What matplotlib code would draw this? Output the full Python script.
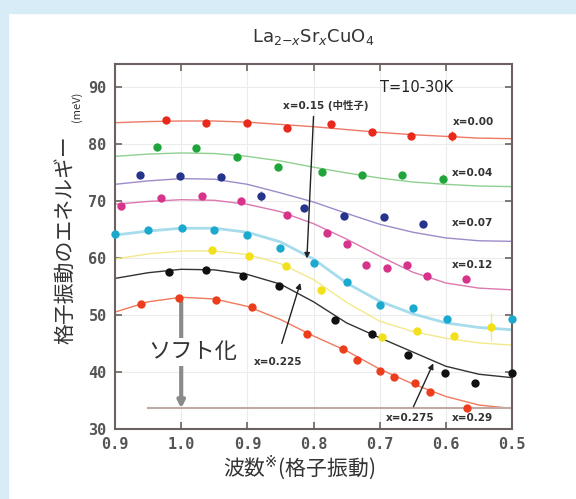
import numpy as np
import matplotlib
matplotlib.use("Agg")
import matplotlib.pyplot as plt

plt.rcParams['font.family'] = ['DejaVu Sans', 'Noto Sans CJK JP']

# x positions are in tick units: 0 -> "0.9", 1 -> "1.0", ... 6 -> "0.5"
tick_labels = ['0.9', '1.0', '0.9', '0.8', '0.7', '0.6', '0.5']
ytick_vals = [30, 40, 50, 60, 70, 80, 90]

# measured points (position, energy meV)
x000_u = [0.77, 1.37, 1.99, 2.60, 3.27, 3.88, 4.48, 5.09]
x000_e = [84.2, 83.6, 83.7, 82.7, 83.4, 82.0, 81.3, 81.4]
x004_u = [0.63, 1.23, 1.84, 2.46, 3.13, 3.74, 4.34, 4.95]
x004_e = [79.4, 79.2, 77.7, 75.9, 75.0, 74.5, 74.5, 73.8]
x007_u = [0.38, 0.98, 1.60, 2.20, 2.85, 3.46, 4.07, 4.66]
x007_e = [74.6, 74.4, 74.2, 70.8, 68.8, 67.4, 67.1, 65.9]
x012_u = [0.09, 0.70, 1.31, 1.91, 2.60, 3.21, 3.51, 3.80, 4.11, 4.41, 4.71, 5.31]
x012_e = [69.1, 70.5, 70.9, 69.9, 67.6, 64.4, 62.5, 58.7, 58.2, 58.7, 56.9, 56.3]
x015_u = [0.00, 0.50, 1.01, 1.50, 2.00, 2.50, 3.00, 3.50, 4.00, 4.51, 5.01, 6.00]
x015_e = [64.2, 64.9, 65.3, 64.9, 64.0, 61.8, 59.1, 55.7, 51.8, 51.2, 49.3, 49.3]
x018_u = [1.47, 2.03, 2.58, 3.12, 4.03, 4.57, 5.13, 5.68]
x018_e = [61.4, 60.4, 58.5, 54.3, 46.2, 47.2, 46.3, 47.9]
x0275_u = [0.82, 1.38, 1.93, 2.48, 3.33, 3.88, 4.43, 4.99, 5.44, 6.00]
x0275_e = [57.5, 57.9, 56.8, 55.1, 49.1, 46.6, 42.9, 39.9, 38.0, 39.9]
x029_u = [0.40, 0.96, 1.52, 2.07, 2.90, 3.45, 3.65, 4.00, 4.21, 4.54, 4.76, 5.32]
x029_e = [51.9, 52.9, 52.6, 51.4, 46.7, 44.0, 42.1, 40.2, 39.1, 38.1, 36.4, 33.6]

# fitted curves, read every 0.5 tick unit
fit_u = [0, 0.5, 1, 1.5, 2, 2.5, 3, 3.5, 4, 4.5, 5, 5.5, 6]
fit000 = [83.7, 83.9, 84.0, 84.0, 83.8, 83.4, 83.0, 82.5, 82.0, 81.6, 81.3, 81.0, 80.9]
fit004 = [77.8, 78.2, 78.4, 78.3, 77.8, 77.0, 75.9, 74.9, 74.0, 73.3, 72.9, 72.6, 72.5]
fit007 = [72.9, 73.5, 73.9, 73.8, 72.9, 71.4, 69.8, 67.8, 65.9, 64.5, 63.5, 63.0, 62.9]
fit012 = [69.4, 69.9, 70.2, 70.1, 69.4, 68.1, 66.0, 63.3, 60.3, 57.5, 55.6, 54.7, 54.4]
fit015 = [64.0, 64.7, 65.2, 65.2, 64.5, 62.8, 59.8, 55.6, 52.4, 50.2, 48.6, 47.8, 47.4]
fit018 = [59.8, 60.7, 61.2, 61.2, 60.6, 59.0, 56.2, 52.2, 48.9, 47.1, 45.9, 45.1, 44.7]
fit0275 = [56.4, 57.4, 58.0, 57.9, 57.1, 55.4, 52.3, 48.6, 46.0, 43.5, 41.0, 39.6, 39.0]
fit029 = [50.5, 52.3, 53.1, 52.8, 51.5, 49.2, 46.3, 43.7, 40.5, 37.9, 35.7, 34.2, 33.6]

soft_level = 33.6

series = [
    (x000_u, x000_e, fit000, '#e8291c', '#ec7a66'),
    (x004_u, x004_e, fit004, '#1fa53a', '#8fd08f'),
    (x007_u, x007_e, fit007, '#27348b', '#9d8bc9'),
    (x012_u, x012_e, fit012, '#d6338a', '#dc78b0'),
    (x015_u, x015_e, fit015, '#1baacd', '#a6dcec'),
    (x018_u, x018_e, fit018, '#f2e01a', '#f3e98a'),
    (x0275_u, x0275_e, fit0275, '#111111', '#333333'),
    (x029_u, x029_e, fit029, '#ec3d1d', '#ef7a5c'),
]

fig = plt.figure(figsize=(5.76, 4.99), dpi=100)
fig.patch.set_facecolor('white')
# light blue frame strips of the page
fig.add_artist(plt.Rectangle((0, 0), 8 / 576, 1, transform=fig.transFigure,
                             color='#d8ecf8', zorder=0))
fig.add_artist(plt.Rectangle((0, 1 - 13 / 499), 1, 13 / 499, transform=fig.transFigure,
                             color='#d8ecf8', zorder=0))

ax = fig.add_axes([0.1997, 0.1403, 0.6892, 0.7315])
ax.set_xlim(0, 6)
ax.set_ylim(30, 94)

for u, e, fit, c, lc in series:
    lw = 2.0 if c == '#1baacd' else 1.0
    ax.plot(fit_u, fit, color=lc, lw=lw, zorder=2)
    ax.plot(u, e, 'o', color=c, ms=6, mec='none', zorder=3, clip_on=False)

# a few error bars
ax.errorbar([5.09], [81.4], yerr=[0.9], fmt='none', ecolor='#ec7a66', lw=1, zorder=2)
ax.errorbar([4.95], [73.8], yerr=[0.9], fmt='none', ecolor='#8fd08f', lw=1, zorder=2)
ax.errorbar([2.20], [70.8], yerr=[0.9], fmt='none', ecolor='#7f86c0', lw=1, zorder=2)
ax.errorbar([5.68], [47.9], yerr=[2.4], fmt='none', ecolor='#f3e98a', lw=1, zorder=2)
ax.errorbar([6.00], [39.9], yerr=[1.8], fmt='none', ecolor='#888888', lw=1, zorder=2)

# softening guide
ax.plot([0.5, 6.0], [soft_level, soft_level], color='#bfaaa6', lw=1.5, zorder=2)
ax.annotate('', xy=(1.0, soft_level), xytext=(1.0, 52.3),
            arrowprops=dict(arrowstyle='-|>', color='#8a8a8a', lw=3,
                            mutation_scale=10, shrinkA=0, shrinkB=0), zorder=2)
ax.text(1.18, 43.5, 'ソフト化', fontsize=16, family=['Noto Sans CJK JP'],
        ha='center', va='center', color='#333333',
        bbox=dict(facecolor='white', edgecolor='none', pad=2), zorder=4)

# labels
ax.text(4.56, 89.8, 'T=10-30K', fontsize=10.5, ha='center', va='center', color='#222222')
lab_kw = dict(fontsize=7.5, ha='center', va='center', color='#333333', weight='bold')
ax.text(5.41, 83.9, 'x=0.00', **lab_kw)
ax.text(5.41, 74.9, 'x=0.04', **lab_kw)
ax.text(5.40, 66.1, 'x=0.07', **lab_kw)
ax.text(5.40, 58.8, 'x=0.12', **lab_kw)
ax.text(3.19, 86.8, 'x=0.15 (中性子)', family=['DejaVu Sans', 'Noto Sans CJK JP'], **lab_kw)
ax.text(2.47, 41.8, 'x=0.225', **lab_kw)
ax.text(4.46, 31.9, 'x=0.275', **lab_kw)
ax.text(5.40, 31.9, 'x=0.29', **lab_kw)

arr = dict(arrowstyle='-|>', color='#222222', lw=1, mutation_scale=8, shrinkA=0, shrinkB=0)
ax.annotate('', xy=(2.90, 59.9), xytext=(3.00, 84.8), arrowprops=arr)
ax.annotate('', xy=(2.80, 55.6), xytext=(2.52, 45.0), arrowprops=arr)
ax.annotate('', xy=(4.81, 41.5), xytext=(4.51, 33.9), arrowprops=arr)

# axes styling
ax.set_xticks(range(7))
ax.set_xticklabels(tick_labels)
ax.set_yticks(ytick_vals)
ax.tick_params(direction='in', length=5, width=1.2, color='#6b625f',
               top=True, right=True, labelsize=11, labelcolor='#555555', pad=6)
for lab in ax.get_xticklabels() + ax.get_yticklabels():
    lab.set_family('DejaVu Sans Mono')
    lab.set_weight('bold')
for sp in ax.spines.values():
    sp.set_color('#6b625f')
    sp.set_linewidth(1.5)
ax.grid(True, color='#ececec', lw=0.8)
ax.set_axisbelow(True)

ax.set_title('La$_{2\\mathregular{-}x}$Sr$_x$CuO$_4$', fontsize=13, color='#333333', pad=16)

fig.text(0.113, 0.52, '格子振動のエネルギー', rotation=90, fontsize=15,
         family=['Noto Sans CJK JP'], ha='center', va='center', color='#333333')
fig.text(0.133, 0.785, '(meV)', rotation=90, fontsize=8,
         family=['Noto Sans CJK JP'], ha='center', va='center', color='#333333')
fig.text(0.52, 0.062, '波数$^{※}$(格子振動)', fontsize=15,
         family=['Noto Sans CJK JP'], ha='center', va='center', color='#333333')

fig.savefig('out.png', dpi=100)
